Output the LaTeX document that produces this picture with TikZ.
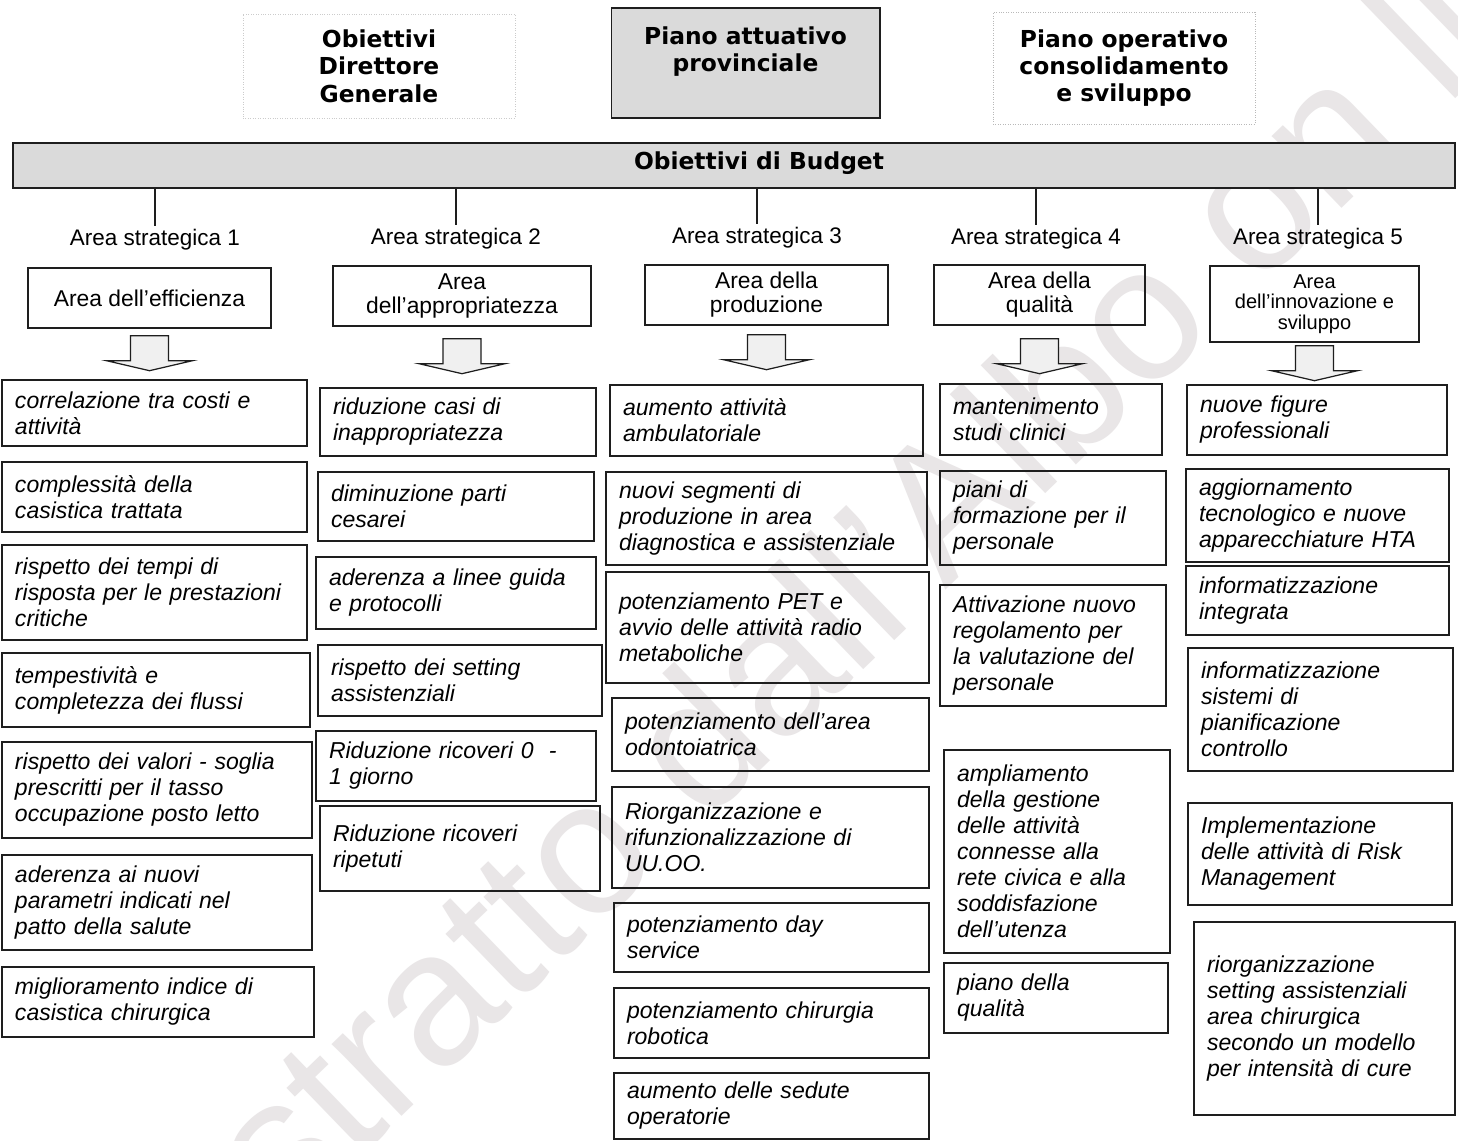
\documentclass[tikz,border=0pt]{standalone}
\usepackage{fontspec}
\setmainfont{Liberation Sans}
\newfontfamily\headfont{DejaVu Sans}
\usetikzlibrary{positioning}
\definecolor{bandgray}{HTML}{DADADA}
\definecolor{wmgray}{HTML}{E9E6E7}
\definecolor{boxline}{HTML}{1E1E1E}
\tikzset{
  itembox/.style={draw=boxline, line width=0.8pt, align=left, inner xsep=0pt, inner ysep=0pt,
    font=\fontsize{13.1}{14.8}\selectfont\itshape},
  areabox/.style={draw=boxline, line width=0.8pt, align=center, inner sep=0pt,
    font=\fontsize{13}{13.6}\selectfont},
  arealabel/.style={font=\fontsize{12.8}{14}\selectfont, inner sep=2pt},
  headtext/.style={font=\fontsize{13.3}{15.6}\selectfont\headfont\bfseries, align=center},
  arrowbox/.style={draw=boxline, line width=0.7pt, fill=gray!12},
}
\newcommand{\itembox}[6]{
\pgfmathsetmacro\bxw{(#4-#2)*0.02}
\pgfmathsetmacro\bxh{(#5-#3)*0.02}
\pgfmathsetmacro\txw{(#4-#2-26)*0.02}
\node[itembox, minimum width=\bxw cm, minimum height=\bxh cm, text width=\txw cm]
  (#1) at ({(#2+#4)/2}, {(#3+#5)/2}) {#6};
}
\newcommand{\bigarrow}[2]{
\draw[arrowbox] (#1.south) ++(-19,#2) -- ++(0,25) -- ++(-24,0) -- ++(43,10)
  -- ++(43,-10) -- ++(-24,0) -- ++(0,-25) -- cycle;
}

\begin{document}
\begin{tikzpicture}[x=0.02cm, y=-0.02cm]

\useasboundingbox (0,0) rectangle (1458,1141);
\fill[white] (0,0) rectangle (1458,1141);
\clip (0,0) rectangle (1458,1141);

\node[font=\fontsize{108}{108}\selectfont, text=wmgray, rotate=44] (wm) at (880,560)
  {Estratto dall’Albo on line};

% testata
\node[headtext, draw=gray!40, densely dotted, minimum width=5.44cm, minimum height=2.08cm]
  (odg) at (379,66) {Obiettivi\\Direttore\\Generale};
\node[headtext, draw=boxline, line width=0.6pt, fill=bandgray, minimum width=5.38cm,
  minimum height=2.2cm] (pap) at (745.5,63) {Piano attuativo\\provinciale\\\mbox{}};
\node[headtext, draw=gray!55, densely dotted, minimum width=5.24cm, minimum height=2.24cm]
  (pocs) at (1124,68) {Piano operativo\\consolidamento\\e sviluppo};

\node[draw=boxline, line width=1.3pt, fill=bandgray, minimum width=28.84cm,
  minimum height=0.9cm] (budget) at (734,165.5) {};
\node[headtext] (budgettext) at (759,163) {Obiettivi di Budget};

\node[arealabel] (as1) at (155,240) {Area strategica 1};
\node[arealabel] (as2) at (456,239) {Area strategica 2};
\node[arealabel] (as3) at (757,238) {Area strategica 3};
\node[arealabel] (as4) at (1036,239) {Area strategica 4};
\node[arealabel] (as5) at (1318,239) {Area strategica 5};

\foreach \i in {1,...,5}
  \draw[line width=0.7pt, boxline] (budget.south -| as\i.north) -- (as\i.north);

\node[areabox, minimum width=4.86cm, minimum height=1.2cm] (a1) at (149.5,298)
  {Area dell’efficienza};
\node[areabox, minimum width=5.16cm, minimum height=1.2cm] (a2) at (462,296)
  {Area\\dell’appropriatezza};
\node[areabox, minimum width=4.86cm, minimum height=1.2cm] (a3) at (766.5,295)
  {Area della\\produzione};
\node[areabox, minimum width=4.22cm, minimum height=1.2cm] (a4) at (1039.5,295)
  {Area della\\qualità};
\node[areabox, minimum width=4.18cm, minimum height=1.52cm,
  font=\fontsize{11.4}{11.8}\selectfont] (a5) at (1314.5,304)
  {Area\\dell’innovazione e\\sviluppo};

\bigarrow{a1}{7}
\bigarrow{a2}{12}
\bigarrow{a3}{9}
\bigarrow{a4}{13}
\bigarrow{a5}{3}

% area strategica 1
\itembox{c11}{2}{380}{307}{446}{correlazione tra costi e\\attività}
\itembox{c12}{2}{462}{307}{532}{complessità della\\casistica trattata}
\itembox{c13}{2}{545}{307}{640}{rispetto dei tempi di\\risposta per le prestazioni\\critiche}
\itembox{c14}{2}{653}{310}{727}{tempestività e\\completezza dei flussi}
\itembox{c15}{2}{742}{312}{838}{rispetto dei valori - soglia\\prescritti per il tasso\\occupazione posto letto}
\itembox{c16}{2}{855}{312}{950}{aderenza ai nuovi\\parametri indicati nel\\patto della salute}
\itembox{c17}{2}{967}{314}{1037}{miglioramento indice di\\casistica chirurgica}

% area strategica 2
\itembox{c21}{320}{388}{596}{456}{riduzione casi di\\inappropriatezza}
\itembox{c22}{318}{472}{594}{541}{diminuzione parti\\cesarei}
\itembox{c23}{316}{557}{596}{629}{aderenza a linee guida\\e protocolli}
\itembox{c24}{318}{645}{602}{716}{rispetto dei setting\\assistenziali}
\itembox{c25}{316}{731}{596}{801}{Riduzione ricoveri 0 \ -\\1 giorno}
\itembox{c26}{320}{806}{600}{891}{Riduzione ricoveri\\ripetuti}

% area strategica 3
\itembox{c31}{610}{385}{923}{456}{aumento attività\\ambulatoriale}
\itembox{c32}{606}{472}{927}{565}{nuovi segmenti di\\produzione in area\\diagnostica e assistenziale}
\itembox{c33}{606}{572}{929}{683}{potenziamento PET e\\avvio delle attività radio\\metaboliche}
\itembox{c34}{612}{698}{929}{771}{potenziamento dell’area\\odontoiatrica}
\itembox{c35}{612}{787}{929}{888}{Riorganizzazione e\\rifunzionalizzazione di\\UU.OO.}
\itembox{c36}{614}{903}{929}{972}{potenziamento day\\service}
\itembox{c37}{614}{988}{929}{1058}{potenziamento chirurgia\\robotica}
\itembox{c38}{614}{1073}{929}{1139}{aumento delle sedute\\operatorie}

% area strategica 4
\itembox{c41}{940}{384}{1162}{455}{mantenimento\\studi clinici}
\itembox{c42}{940}{471}{1166}{565}{piani di\\formazione per il\\personale}
\itembox{c43}{940}{585}{1166}{706}{Attivazione nuovo\\regolamento per\\la valutazione del\\personale}
\itembox{c44}{944}{750}{1170}{953}{ampliamento\\della gestione\\delle attività\\connesse alla\\rete civica e alla\\soddisfazione\\dell’utenza}
\itembox{c45}{944}{963}{1168}{1033}{piano della\\qualità}

% area strategica 5
\itembox{c51}{1187}{385}{1447}{455}{nuove figure\\professionali}
\itembox{c52}{1186}{469}{1449}{562}{aggiornamento\\tecnologico e nuove\\apparecchiature HTA}
\itembox{c53}{1186}{566}{1449}{635}{informatizzazione\\integrata}
\itembox{c54}{1188}{648}{1453}{771}{informatizzazione\\sistemi di\\pianificazione\\controllo}
\itembox{c55}{1188}{803}{1452}{905}{Implementazione\\delle attività di Risk\\Management}
\itembox{c56}{1194}{922}{1455}{1115}{riorganizzazione\\setting assistenziali\\area chirurgica\\secondo un modello\\per intensità di cure}

\end{tikzpicture}
\end{document}
